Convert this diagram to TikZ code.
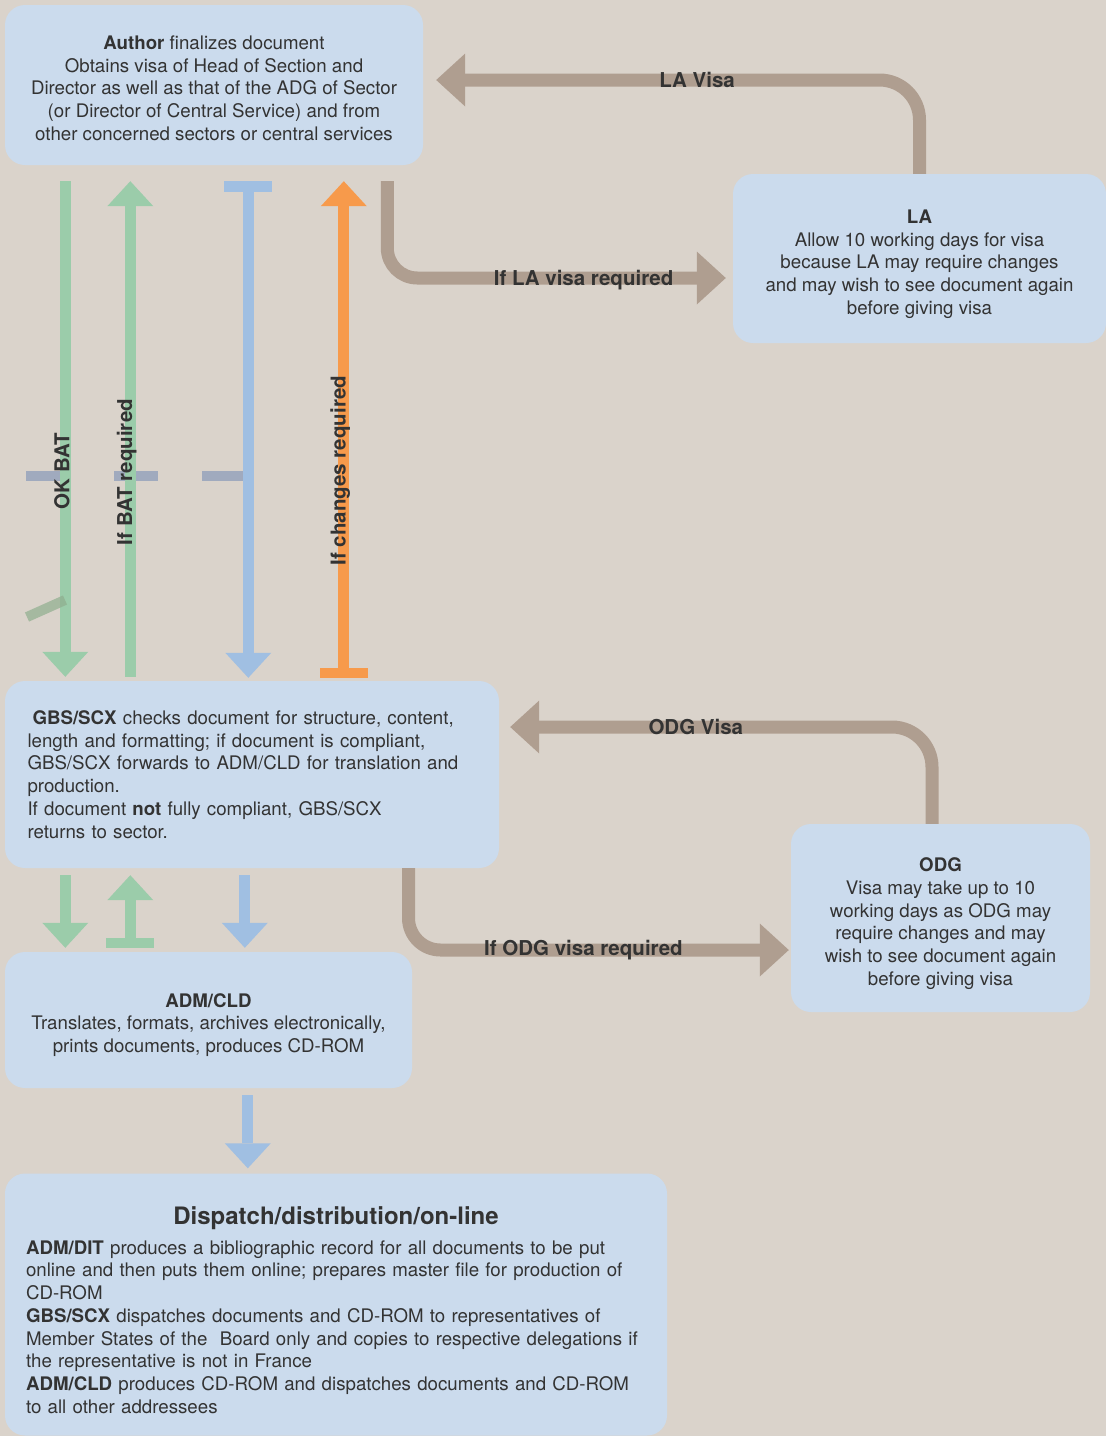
\documentclass[tikz,border=0pt]{standalone}
\usepackage{fontspec}
\setmainfont{TeX Gyre Heros}
\usepackage{tikz}
\usetikzlibrary{arrows.meta}
\definecolor{paperBg}{HTML}{DAD3CB}
\definecolor{boxBlue}{HTML}{CBDBED}
\definecolor{flowGreen}{HTML}{9BCCAA}
\definecolor{flowBlue}{HTML}{A0BFE2}
\definecolor{flowOrange}{HTML}{F79A4B}
\definecolor{visaBrown}{HTML}{AF9E90}
\definecolor{barGrey}{HTML}{A0AABE}
\definecolor{markGreen}{HTML}{8FAE8E}
\definecolor{inkGrey}{HTML}{333333}
\newcommand{\boxstrut}[1]{\rule{0pt}{#1}}

\begin{document}
\begin{tikzpicture}[x=1pt,y=-1pt,
    box/.style={fill=boxBlue,rounded corners=20pt,inner sep=0pt,align=center,text=inkGrey,font=\fontsize{18.7}{22.7}\selectfont},
    flowdown/.style={draw=#1,line width=11pt,-{Triangle[width=46pt,length=25pt,line width=0pt]}},
    flowup/.style={draw=#1,line width=11pt,{Triangle[width=46pt,length=25pt,line width=0pt]}-},
    flowbardown/.style={draw=#1,line width=11pt,{Rectangle[width=48pt,length=11pt,line width=0pt]}-{Triangle[width=46pt,length=25pt,line width=0pt]}},
    flowupbar/.style={draw=#1,line width=11pt,{Triangle[width=46pt,length=25pt,line width=0pt]}-{Rectangle[width=48pt,length=10pt,line width=0pt]}},
    visa/.style={draw=visaBrown,line width=13pt,-{Triangle[width=53pt,length=29pt,line width=0pt]}},
    vislabel/.style={font=\fontsize{20.5}{24}\selectfont\bfseries,text=inkGrey,inner sep=0pt},
    sidelabel/.style={vislabel,rotate=90,yshift=3.5pt}
  ]
    \useasboundingbox (0,0) rectangle (1106,1436);
    \fill[paperBg] (0,0) rectangle (1106,1436);

    \node[box,minimum width=418pt,minimum height=160pt] (author) at (214,85)
      {\boxstrut{20pt}\textbf{Author} finalizes document\\Obtains visa of Head of Section and\\Director as well as that of the ADG of Sector\\(or Director of Central Service) and from\\other concerned sectors or central services};
    \node[box,minimum width=373pt,minimum height=169pt] (la) at (919.5,258.5)
      {\boxstrut{25pt}\textbf{LA}\\Allow 10 working days for visa\\because LA may require changes\\and may wish to see document again\\before giving visa};
    \node[box,minimum width=494pt,minimum height=187pt,text width=449pt,align=left] (gbs) at (252,774.5)
      {\hspace*{5pt}\textbf{GBS/SCX} checks document for structure, content,\\length and formatting; if document is compliant,\\GBS/SCX forwards to ADM/CLD for translation and\\production.\\If document \textbf{not} fully compliant, GBS/SCX\\returns to sector.};
    \node[box,minimum width=299pt,minimum height=188pt] (odg) at (940.5,918)
      {\boxstrut{25pt}\textbf{ODG}\\Visa may take up to 10\\working days as ODG may\\require changes and may\\wish to see document again\\before giving visa};
    \node[box,minimum width=407pt,minimum height=136pt] (adm) at (208.5,1020)
      {\boxstrut{24pt}\textbf{ADM/CLD}\\Translates, formats, archives electronically,\\prints documents, produces CD-ROM};
    \node[box,minimum width=662pt,minimum height=262pt,text width=620pt,align=left] (dispatch) at (336,1304.5)
      {\boxstrut{29pt}\makebox[\linewidth]{\fontsize{24}{26}\selectfont\bfseries Dispatch/distribution/on-line}\\[7pt]
       \textbf{ADM/DIT} produces a bibliographic record for all documents to be put\\
       online and then puts them online; prepares master file for production of\\
       CD-ROM\\
       \textbf{GBS/SCX} dispatches documents and CD-ROM to representatives of\\
       Member States of the\ \ Board only and copies to respective delegations if\\
       the representative is not in France\\
       \textbf{ADM/CLD} produces CD-ROM and dispatches documents and CD-ROM\\
       to all other addressees};

    \fill[barGrey] (26,471) rectangle (60,481);
    \fill[barGrey] (114,471) rectangle (158,481);
    \fill[barGrey] (202,471) rectangle (243,481);

    \draw[flowdown=flowGreen] ([xshift=60.5pt,yshift=-16pt]author.south west) --
      node[pos=0.585,sidelabel] {OK BAT} ([xshift=60.5pt,yshift=4pt]gbs.north west);
    \draw[markGreen,opacity=0.7,line width=10pt] (27,617) -- (65,600);
    \draw[flowup=flowGreen] ([xshift=125.5pt,yshift=-16pt]author.south west) --
      node[pos=0.587,sidelabel] {If BAT required} ([xshift=125.5pt,yshift=4pt]gbs.north west);
    \draw[flowbardown=flowBlue] ([xshift=243.5pt,yshift=-16pt]author.south west) --
      ([xshift=243.5pt,yshift=3pt]gbs.north west);
    \draw[flowupbar=flowOrange] ([xshift=339pt,yshift=-16pt]author.south west) --
      node[pos=0.583,sidelabel] {If changes required} ([xshift=339pt,yshift=3pt]gbs.north west);

    \draw[visa,rounded corners=30pt] ([xshift=382.5pt,yshift=-16pt]author.south west) |-
      node[pos=0.79,vislabel,yshift=-2pt] {If LA visa required} ([xshift=-7pt,yshift=-19.5pt]la.west);
    \draw[visa,rounded corners=40pt] (la.north) |-
      node[pos=0.73,vislabel] {LA Visa} ([xshift=13pt,yshift=5pt]author.east);

    \draw[flowdown=flowGreen] ([xshift=60.5pt,yshift=-7pt]gbs.south west) --
      ([xshift=60.5pt,yshift=4pt]adm.north west);
    \draw[flowupbar=flowGreen] ([xshift=125.5pt,yshift=-7pt]gbs.south west) --
      ([xshift=125.5pt,yshift=4pt]adm.north west);
    \draw[flowdown=flowBlue] ([xshift=240pt,yshift=-7pt]gbs.south west) --
      ([xshift=240pt,yshift=4pt]adm.north west);

    \draw[visa,rounded corners=32pt] ([xshift=156.5pt]gbs.south) |-
      node[pos=0.73,vislabel] {If ODG visa required} ([xshift=-2pt,yshift=-32pt]odg.west);
    \draw[visa,rounded corners=40pt] ([xshift=-8.5pt]odg.north) |-
      node[pos=0.78,vislabel] {ODG Visa} ([xshift=11pt,yshift=47.5pt]gbs.east);

    \draw[flowdown=flowBlue] ([xshift=243pt,yshift=-7pt]adm.south west) --
      ([xshift=243pt,yshift=5pt]dispatch.north west);
  \end{tikzpicture}
\end{document}
